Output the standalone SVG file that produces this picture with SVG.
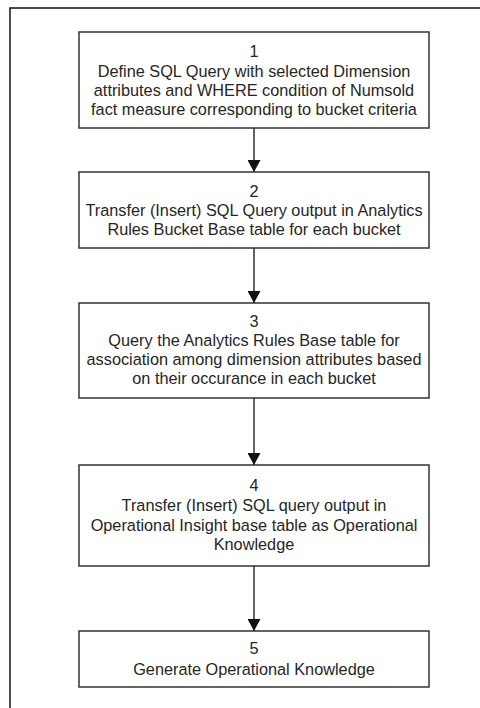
<svg xmlns="http://www.w3.org/2000/svg" width="480" height="708" viewBox="0 0 480 708">
<defs>
<style>
.frame{fill:none;stroke:#111;stroke-width:1.5}
.box{fill:#fff;stroke:#333;stroke-width:1.5}
.t{font-family:"Liberation Sans",Arial,sans-serif;font-size:16.3px;fill:#262626;text-anchor:middle}
.conn{stroke:#111;stroke-width:1.3;fill:none;marker-end:url(#arr)}
</style>
<marker id="arr" markerWidth="13" markerHeight="13" refX="12" refY="6.5" orient="auto" markerUnits="userSpaceOnUse" viewBox="0 0 13 13">
<path d="M0,0 L12,6.5 L0,13 Z" fill="#111"/>
</marker>
</defs>
<rect width="480" height="708" fill="#fff"/>
<path class="frame" d="M10,720 L10,8 L490,8"/>
<g id="connectors">
<line class="conn" x1="254" y1="128" x2="254" y2="172"/>
<line class="conn" x1="254" y1="248" x2="254" y2="303"/>
<line class="conn" x1="254" y1="398" x2="254" y2="465"/>
<line class="conn" x1="254" y1="566" x2="254" y2="631"/>
</g>
<g id="node1">
<rect class="box" x="79" y="32" width="350" height="96"/>
<text class="t" x="254" y="57">1</text>
<text class="t" x="254" y="77">Define SQL Query with selected Dimension</text>
<text class="t" x="254" y="96">attributes and WHERE condition of Numsold</text>
<text class="t" x="254" y="115">fact measure corresponding to bucket criteria</text>
</g>
<g id="node2">
<rect class="box" x="79" y="172" width="350" height="76"/>
<text class="t" x="254" y="197">2</text>
<text class="t" x="254" y="216">Transfer (Insert) SQL Query output in Analytics</text>
<text class="t" x="254" y="235">Rules Bucket Base table for each bucket</text>
</g>
<g id="node3">
<rect class="box" x="79" y="303" width="350" height="95"/>
<text class="t" x="254" y="327">3</text>
<text class="t" x="254" y="346">Query the Analytics Rules Base table for</text>
<text class="t" x="254" y="365">association among dimension attributes based</text>
<text class="t" x="254" y="384">on their occurance in each bucket</text>
</g>
<g id="node4">
<rect class="box" x="79" y="465" width="350" height="101"/>
<text class="t" x="254" y="491">4</text>
<text class="t" x="254" y="511">Transfer (Insert) SQL query output in</text>
<text class="t" x="254" y="531">Operational Insight base table as Operational</text>
<text class="t" x="254" y="550">Knowledge</text>
</g>
<g id="node5">
<rect class="box" x="79" y="631" width="350" height="56"/>
<text class="t" x="254" y="654">5</text>
<text class="t" x="254" y="675">Generate Operational Knowledge</text>
</g>
</svg>
